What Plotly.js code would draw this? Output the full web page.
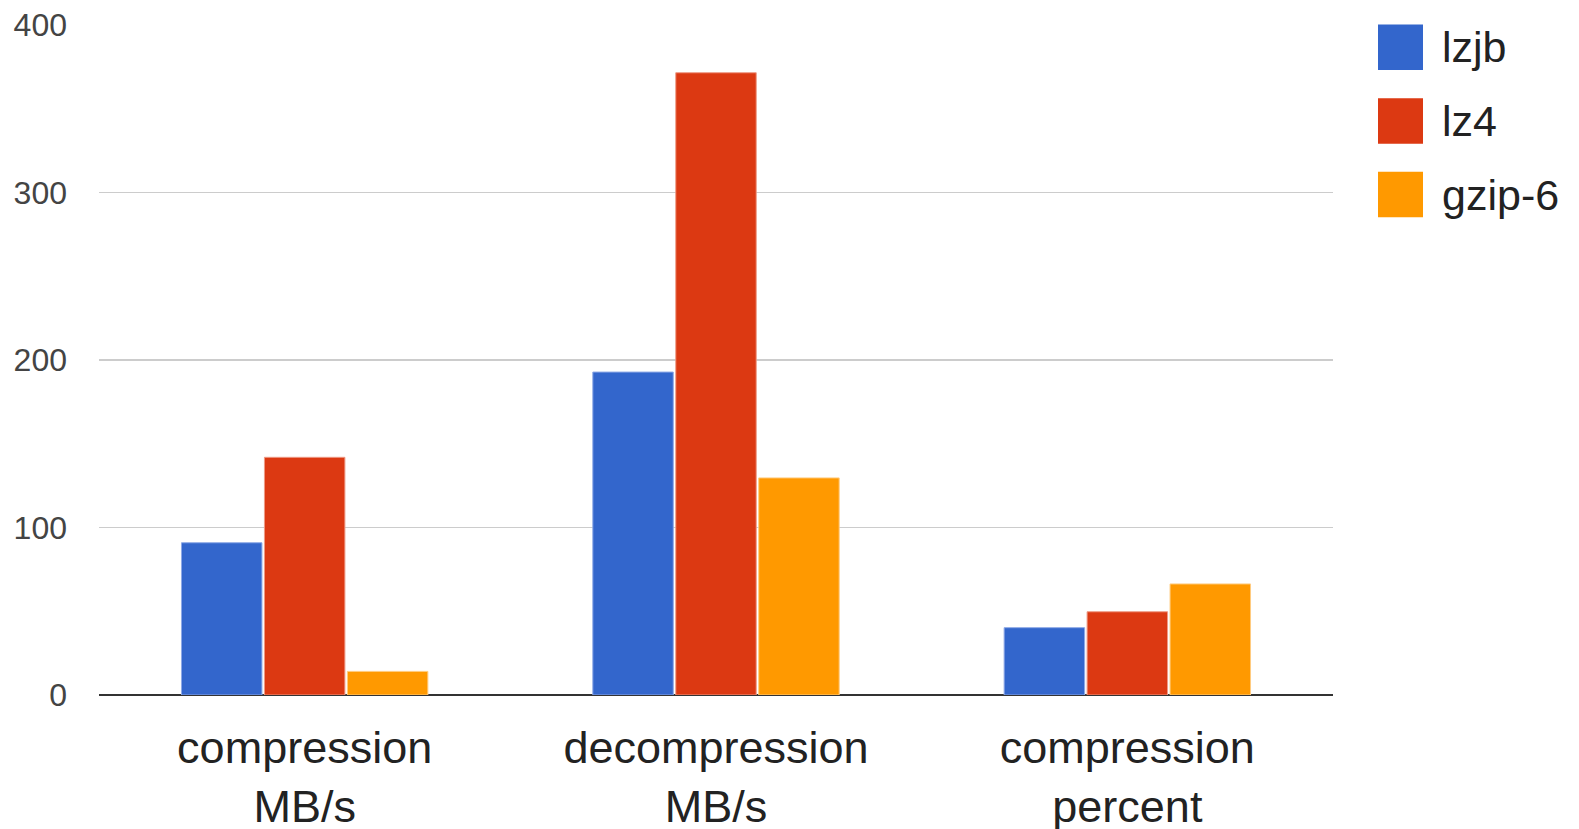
<!DOCTYPE html>
<html>
<head>
<meta charset="utf-8">
<script src="https://cdn.plot.ly/plotly-3.0.1.min.js"></script>
<style>html,body{margin:0;padding:0;background:#fff;overflow:hidden;}#chart{width:1579px;height:829px;}</style>
</head>
<body>
<div id="chart"></div>
<script>
const categories = ["compression<br>MB/s", "decompression<br>MB/s", "compression<br>percent"];
const seriesNames = ["lzjb", "lz4", "gzip-6"];
const lzjb = [90.9, 192.8, 40.2];
const lz4 = [141.9, 371.5, 49.7];
const gzip6 = [14.1, 129.6, 66.3];
const yTicks = [0, 100, 200, 300, 400];

const colors = ["#3366cc", "#dc3912", "#ff9900"];
const edge = ["#8ea9e6", "#ee9a85", "#ffcc80"];
const values = [lzjb, lz4, gzip6];

const traces = seriesNames.map((n, i) => ({
  type: "bar", name: n, x: categories, y: values[i],
  marker: {color: colors[i], line: {color: edge[i], width: 1}},
  hoverinfo: "x+y+name"
}));

// plot area in px: x 99..1333, y 25..695
const PL = 99, PW = 1234, PB = 695, PH = 670;
const px2x = p => (p - PL) / PW;
const py2y = p => (PB - p) / PH;

const shapes = [];
const annotations = [];
const rowCenters = [47.3, 121, 194.5];
seriesNames.forEach((n, i) => {
  const c = rowCenters[i];
  shapes.push({type: "rect", xref: "paper", yref: "paper",
    x0: px2x(1378), x1: px2x(1423),
    y0: py2y(c + 22.8), y1: py2y(c - 22.8),
    fillcolor: colors[i], line: {width: 0}});
  annotations.push({xref: "paper", yref: "paper",
    x: px2x(1440), y: py2y(c),
    xanchor: "left", yanchor: "middle", text: n, showarrow: false,
    font: {size: 43, color: "#222", family: "Liberation Sans, Arial, sans-serif"}});
});

const layout = {
  width: 1579, height: 829,
  margin: {l: 99, r: 246, t: 25, b: 134, pad: 0},
  paper_bgcolor: "#fff", plot_bgcolor: "#fff",
  font: {family: "Liberation Sans, Arial, sans-serif", color: "#222"},
  showlegend: false,
  barmode: "group", bargap: 0.395, bargroupgap: 0.03,
  xaxis: {
    type: "category", showgrid: false, zeroline: false, showline: false,
    ticks: "", tickfont: {size: 45, color: "#222"}, ticklabelstandoff: 22
  },
  yaxis: {
    range: [0, 400], tickvals: yTicks, ticktext: yTicks.map(String),
    showgrid: true, gridcolor: "#cccccc", gridwidth: 1.5,
    zeroline: true, zerolinecolor: "#333", zerolinewidth: 2,
    showline: false, ticks: "", tickfont: {size: 32, color: "#444"},
    ticklabelstandoff: 31, fixedrange: true
  },
  shapes: shapes, annotations: annotations
};

Plotly.newPlot("chart", traces, layout, {displayModeBar: false, staticPlot: true});
</script>
</body>
</html>
